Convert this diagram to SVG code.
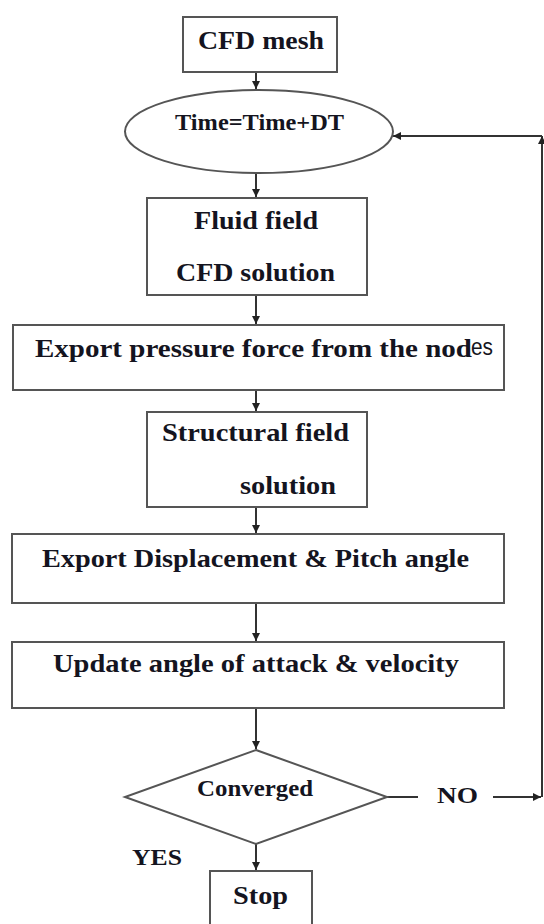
<svg xmlns="http://www.w3.org/2000/svg" width="544" height="924" viewBox="0 0 544 924">
<style>
.box{fill:#fff;stroke:#555;stroke-width:2}
.t{font-family:"Liberation Serif","Times New Roman",serif;font-weight:bold;font-size:25px;fill:#141420}
.sm{font-size:23px}
.s{font-family:"Liberation Sans",Arial,sans-serif;font-size:24px;fill:#141420}
.c{fill:none;stroke:#333;stroke-width:2}
</style>
<defs>
<marker id="ah" viewBox="0 0 10 10" refX="10" refY="5" markerWidth="4" markerHeight="4" orient="auto" markerUnits="strokeWidth">
<path d="M0,0 L10,5 L0,10 z" fill="#222"/>
</marker>
</defs>
<rect width="544" height="924" fill="#fff"/>
<g id="connectors">
<line class="c" x1="256" y1="72" x2="256" y2="89" marker-end="url(#ah)"/>
<line class="c" x1="256" y1="173" x2="256" y2="197" marker-end="url(#ah)"/>
<line class="c" x1="256" y1="295" x2="256" y2="324" marker-end="url(#ah)"/>
<line class="c" x1="256" y1="390" x2="256" y2="411" marker-end="url(#ah)"/>
<line class="c" x1="256" y1="507" x2="256" y2="533" marker-end="url(#ah)"/>
<line class="c" x1="256" y1="603" x2="256" y2="641" marker-end="url(#ah)"/>
<line class="c" x1="256" y1="708" x2="256" y2="749" marker-end="url(#ah)"/>
<line class="c" x1="256" y1="844" x2="256" y2="870" marker-end="url(#ah)"/>
<line class="c" x1="387" y1="797" x2="418" y2="797"/>
<line class="c" x1="493" y1="797" x2="541" y2="797" marker-end="url(#ah)"/>
<line class="c" x1="542" y1="797" x2="542" y2="136" marker-end="url(#ah)"/>
<line class="c" x1="542" y1="136" x2="393" y2="136" marker-end="url(#ah)"/>
<text class="t sm" x="437" y="803" textLength="41" lengthAdjust="spacingAndGlyphs">NO</text>
<text class="t sm" x="132" y="865" textLength="50" lengthAdjust="spacingAndGlyphs">YES</text>
</g>
<g id="n1">
<rect class="box" x="183" y="17" width="154" height="55"/>
<text class="t" x="198" y="49" textLength="126" lengthAdjust="spacingAndGlyphs">CFD mesh</text>
</g>
<g id="n2">
<ellipse class="box" cx="259" cy="131.5" rx="134" ry="41.5"/>
<text class="t sm" x="175" y="130" textLength="169" lengthAdjust="spacingAndGlyphs">Time=Time+DT</text>
</g>
<g id="n3">
<rect class="box" x="147" y="198" width="220" height="97"/>
<text class="t" x="194" y="229" textLength="124" lengthAdjust="spacingAndGlyphs">Fluid field</text>
<text class="t" x="176" y="281" textLength="159" lengthAdjust="spacingAndGlyphs">CFD solution</text>
</g>
<g id="n4">
<rect class="box" x="13" y="325" width="491" height="65"/>
<text class="t" x="35" y="357" textLength="437" lengthAdjust="spacingAndGlyphs">Export pressure force from the nod</text>
<text class="s" x="471" y="355" textLength="22" lengthAdjust="spacingAndGlyphs">es</text>
</g>
<g id="n5">
<rect class="box" x="147" y="412" width="220" height="95"/>
<text class="t" x="162" y="441" textLength="187" lengthAdjust="spacingAndGlyphs">Structural field</text>
<text class="t" x="240" y="494" textLength="96" lengthAdjust="spacingAndGlyphs">solution</text>
</g>
<g id="n6">
<rect class="box" x="12" y="534" width="492" height="69"/>
<text class="t" x="42" y="567" textLength="427" lengthAdjust="spacingAndGlyphs">Export Displacement &amp; Pitch angle</text>
</g>
<g id="n7">
<rect class="box" x="12" y="642" width="492" height="66"/>
<text class="t" x="53" y="672" textLength="406" lengthAdjust="spacingAndGlyphs">Update angle of attack &amp; velocity</text>
</g>
<g id="n8">
<polygon class="box" points="256,750 387,797 256,844 125,797"/>
<text class="t sm" x="197" y="796" textLength="116" lengthAdjust="spacingAndGlyphs">Converged</text>
</g>
<g id="n9">
<rect class="box" x="210" y="871" width="102" height="60"/>
<text class="t" x="233" y="904" textLength="55" lengthAdjust="spacingAndGlyphs">Stop</text>
</g>
</svg>
